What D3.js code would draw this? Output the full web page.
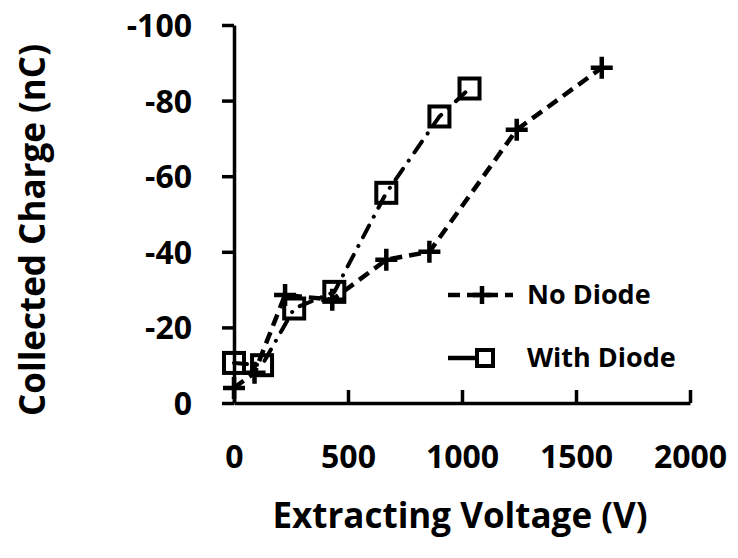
<!DOCTYPE html>
<html>
<head>
<meta charset="utf-8">
<script src="https://cdn.jsdelivr.net/npm/d3@7"></script>
<style>
  body { margin: 0; background: #fff; }
  text { font-family: "Open Sans", sans-serif; font-weight: bold; fill: #000; }
</style>
</head>
<body>
<svg id="chart" width="738" height="558"></svg>
<script>
// data
var noDiodeV = [0, 90, 224, 431, 668, 857, 1240, 1613];
var noDiodeQ = [-4, -8, -28.6, -27.3, -37.9, -40, -72.3, -88.7];
var withDiodeV = [0, 123, 264, 440, 668, 901, 1033];
var withDiodeQ = [-10.6, -10, -25, -29.4, -55.6, -75.8, -83.2];
var xTicks = [0, 500, 1000, 1500, 2000];
var yTicks = [0, -20, -40, -60, -80, -100];
var seriesNames = ["No Diode", "With Diode"];

var svg = d3.select("#chart");

var plotLeft = 234, plotRight = 690, plotTop = 25, plotBottom = 403;

var xScale = d3.scaleLinear().domain([0, 2000]).range([plotLeft, plotRight]);
var yScale = d3.scaleLinear().domain([0, -100]).range([plotBottom, plotTop]);

// axes
var xAxis = d3.axisBottom(xScale)
    .tickValues(xTicks)
    .tickSizeInner(-13)
    .tickSizeOuter(0)
    .tickPadding(42)
    .tickFormat(function (d) { return String(d); });

var yAxis = d3.axisLeft(yScale)
    .tickValues(yTicks)
    .tickSizeInner(12)
    .tickSizeOuter(0)
    .tickPadding(30)
    .tickFormat(function (d) { return String(d); });

var gx = svg.append("g")
    .attr("transform", "translate(0," + plotBottom + ")")
    .call(xAxis);
var gy = svg.append("g")
    .attr("transform", "translate(" + plotLeft + ",0)")
    .call(yAxis);

[gx, gy].forEach(function (g) {
    g.selectAll("path, line").attr("stroke", "#000").attr("stroke-width", 3.5);
    g.selectAll("text").style("font-size", "32px").attr("fill", "#000")
        .attr("font-family", null);
});
gy.selectAll("text").attr("dy", "0.36em");

// axis titles
svg.append("text")
    .attr("x", 460).attr("y", 528)
    .attr("text-anchor", "middle")
    .style("font-size", "35px")
    .text("Extracting Voltage (V)");

svg.append("text")
    .attr("transform", "translate(45,230) rotate(-90)")
    .attr("text-anchor", "middle")
    .style("font-size", "35px")
    .text("Collected Charge (nC)");

// lines
var line = d3.line()
    .x(function (d) { return xScale(d[0]); })
    .y(function (d) { return yScale(d[1]); });

var noDiode = noDiodeV.map(function (v, i) { return [v, noDiodeQ[i]]; });
var withDiode = withDiodeV.map(function (v, i) { return [v, withDiodeQ[i]]; });

svg.append("path")
    .datum(withDiode)
    .attr("d", line)
    .attr("fill", "none")
    .attr("stroke", "#000")
    .attr("stroke-width", 4)
    .attr("stroke-linecap", "round")
    .attr("stroke-dasharray", "13,10,0.1,10");

svg.append("path")
    .datum(noDiode)
    .attr("d", line)
    .attr("fill", "none")
    .attr("stroke", "#000")
    .attr("stroke-width", 4.5)
    .attr("stroke-dasharray", "12,7");

// markers
function plus(g, cx, cy, r) {
    g.append("path")
        .attr("d", "M" + (cx - r) + "," + cy + "H" + (cx + r) + "M" + cx + "," + (cy - r) + "V" + (cy + r))
        .attr("stroke", "#000")
        .attr("stroke-width", 4.5)
        .attr("fill", "none");
}
function square(g, cx, cy, s) {
    g.append("rect")
        .attr("x", cx - s / 2).attr("y", cy - s / 2)
        .attr("width", s).attr("height", s)
        .attr("stroke", "#000")
        .attr("stroke-width", 4)
        .attr("fill", "none");
}

var marks = svg.append("g");
noDiode.forEach(function (d) { plus(marks, xScale(d[0]), yScale(d[1]), 11); });
withDiode.forEach(function (d) { square(marks, xScale(d[0]), yScale(d[1]), 20); });

// legend
var lg = svg.append("g");
lg.append("path")
    .attr("d", "M448,295H513")
    .attr("stroke", "#000").attr("stroke-width", 4.5)
    .attr("stroke-dasharray", "12,7");
plus(lg, 482, 295, 9);
lg.append("text").attr("x", 527).attr("y", 304).style("font-size", "27px").text(seriesNames[0]);

lg.append("path")
    .attr("d", "M448,358H476")
    .attr("stroke", "#000").attr("stroke-width", 4.5);
square(lg, 485, 358, 16);
lg.append("text").attr("x", 527).attr("y", 367).style("font-size", "27px").text(seriesNames[1]);
</script>
</body>
</html>
